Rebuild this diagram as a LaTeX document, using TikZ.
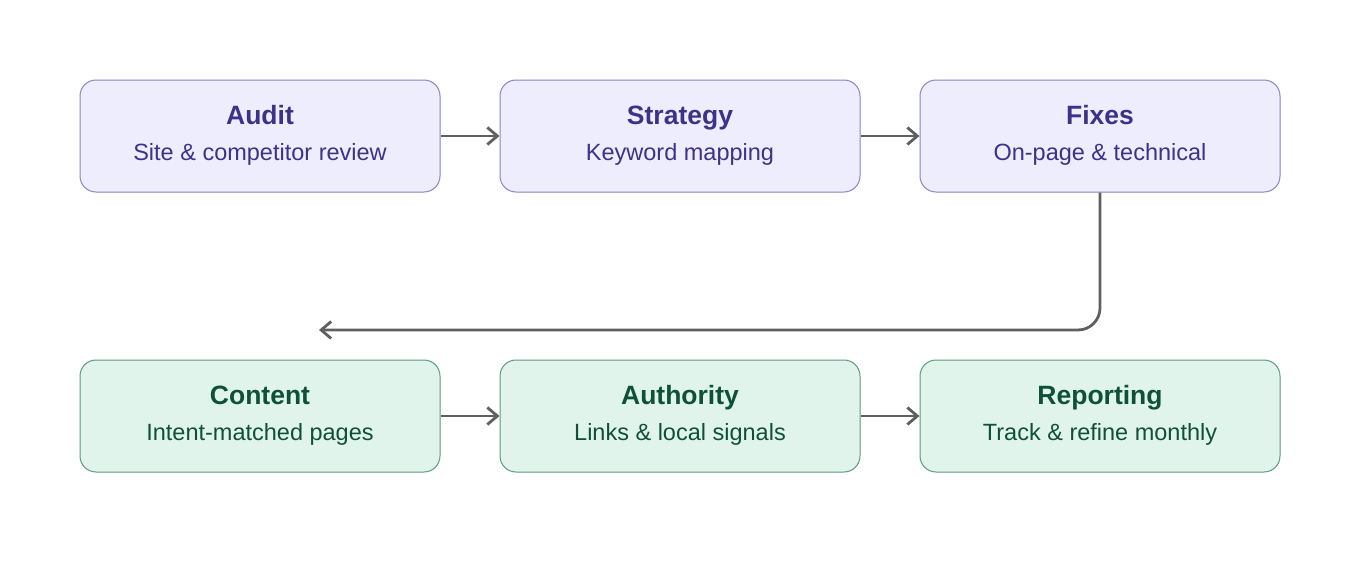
\documentclass[tikz,border=0pt]{standalone}
\usepackage{fontspec}
\setmainfont{Liberation Sans}
\usetikzlibrary{arrows.meta}
\definecolor{topfill}{HTML}{EEEDFD}
\definecolor{topdraw}{HTML}{8A80C6}
\definecolor{toptext}{HTML}{3D3188}
\definecolor{botfill}{HTML}{E0F4EC}
\definecolor{botdraw}{HTML}{5C9A7C}
\definecolor{bottext}{HTML}{0F5138}
\definecolor{flowcol}{HTML}{5F5F5F}
\tikzset{
  box/.style={rectangle, rounded corners=16pt, minimum width=360pt, minimum height=112pt, line width=1pt, inner sep=0pt},
  topbox/.style={box, fill=topfill, draw=topdraw},
  botbox/.style={box, fill=botfill, draw=botdraw},
  ttl/.style={anchor=base, inner sep=0pt, font=\fontsize{26.5}{30}\selectfont\bfseries},
  sub/.style={anchor=base, inner sep=0pt, font=\fontsize{23.5}{28}\selectfont},
  flow/.style={draw=flowcol, line width=2.8pt, -{Straight Barb[length=10pt,width=17pt]}}
}
\begin{document}
\begin{tikzpicture}[x=1pt,y=-1pt]
\useasboundingbox (0,0) rectangle (1360,560);
% top row
\node[topbox] (audit) at (260,136) {};
\node[topbox] (strategy) at (680,136) {};
\node[topbox] (fixes) at (1100,136) {};
% bottom row
\node[botbox] (content) at (260,416) {};
\node[botbox] (authority) at (680,416) {};
\node[botbox] (reporting) at (1100,416) {};
% texts
\node[ttl, text=toptext] (audit-t) at (260,124) {Audit};
\node[sub, text=toptext] (audit-s) at (260,160) {Site \& competitor review};
\node[ttl, text=toptext] (strategy-t) at (680,124) {Strategy};
\node[sub, text=toptext] (strategy-s) at (680,160) {Keyword mapping};
\node[ttl, text=toptext] (fixes-t) at (1100,124) {Fixes};
\node[sub, text=toptext] (fixes-s) at (1100,160) {On-page \& technical};
\node[ttl, text=bottext] (content-t) at (260,404) {Content};
\node[sub, text=bottext] (content-s) at (260,440) {Intent-matched pages};
\node[ttl, text=bottext] (authority-t) at (680,404) {Authority};
\node[sub, text=bottext] (authority-s) at (680,440) {Links \& local signals};
\node[ttl, text=bottext] (reporting-t) at (1100,404) {Reporting};
\node[sub, text=bottext] (reporting-s) at (1100,440) {Track \& refine monthly};
% connectors
\coordinate (loopend) at (319,330);
\draw[flow] (audit.east) -- (strategy.west);
\draw[flow] (strategy.east) -- (fixes.west);
\draw[flow, rounded corners=22pt] (fixes.south) |- (loopend);
\draw[flow] (content.east) -- (authority.west);
\draw[flow] (authority.east) -- (reporting.west);
\end{tikzpicture}
\end{document}
